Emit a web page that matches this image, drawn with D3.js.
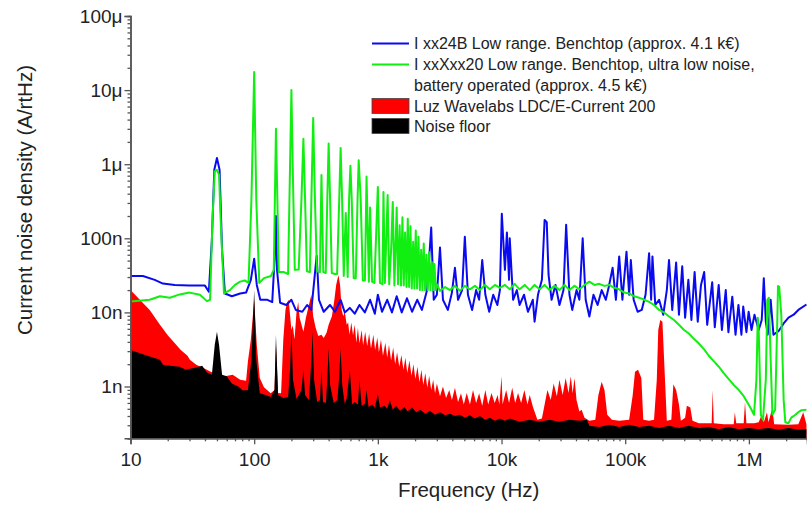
<!DOCTYPE html>
<html><head><meta charset="utf-8">
<script src="https://cdn.jsdelivr.net/npm/d3@7"></script>
<style>
html,body{margin:0;padding:0;background:#fff;}
text{font-family:"Liberation Sans",Arial,sans-serif;fill:#222;}
</style></head>
<body><svg id="c" width="807" height="508"></svg>
<script>
// x: frequency (Hz); y: current noise density in nA/rtHz
const xTickValues = [10, 100, 1000, 10000, 100000, 1000000];
const xTickLabels = ["10", "100", "1k", "10k", "100k", "1M"];
const yTickValues = [1, 10, 100, 1000, 10000, 100000];
const yTickLabels = ["1n", "10n", "100n", "1\u03bc", "10\u03bc", "100\u03bc"];
const legendLabels = [
  "I xx24B Low range. Benchtop (approx. 4.1 k\u20ac)",
  "I xxXxx20 Low range. Benchtop, ultra low noise,",
  "battery operated (approx. 4.5 k\u20ac)",
  "Luz Wavelabs LDC/E-Current 200",
  "Noise floor"
];
const seriesColors = ["#0a0af0", "#11ee11", "#ff0000", "#000000"];

const blueData = [
[10,31],[12.6,31],[15.7,27.5],[18.3,24.5],[22.8,23.5],[30,23],[40,23],[43,19],[45.5,95],[47.6,840],[50,1216],[52.5,840],[55,70],[58,18],[66,16.5],[77,18],[86,18.5],[94,27.5],[100,53],[105,23.5],[112,14.8],[128,14.8],[140,13.8],[146,51],[150,200],[153,37.5],[162,13.5],[182,12.6],[200,14.8],[217,10.8],[245,10.2],[268,12.6],[290,10.8],[320,58],[334,14.8],[365,10.2],[410,12.6],[450,10.2],[500,14.8],[540,10],[593,11.5],[650,9.6],[710,12.6],[785,10],[865,14.8],[945,9.6],[1000,17.3],[1080,10.2],[1190,14.8],[1300,10],[1420,16.5],[1560,10],[1720,15.5],[1890,10.2],[2080,14.8],[2270,10.8],[2500,20],[2700,140],[2830,14.8],[3000,17.3],[3180,75],[3360,14.8],[3680,10.8],[3970,18.5],[4200,40],[4450,14.8],[4800,20],[5050,105],[5350,17.3],[5780,10.8],[6230,20],[6590,14.8],[6980,51],[7400,17.3],[7950,10.2],[8570,17.3],[9250,12.6],[9700,20],[10050,215],[10650,37.5],[11050,120],[11500,27.5],[11650,100],[12400,14.8],[13300,20],[14000,12.6],[15200,17.3],[16350,10.2],[17900,14.8],[18500,7.5],[19700,17.3],[21200,27.5],[22300,177],[23200,165],[24000,32],[25400,14.8],[27300,23.5],[29400,12.6],[31700,20],[33300,152],[35400,17.3],[37300,10.8],[40400,20],[42600,14.8],[45300,100],[47900,14.8],[51300,8.8],[55400,17.3],[59800,12.6],[64600,20],[69700,14.8],[73600,22],[79100,40],[84100,14.8],[89400,57],[94900,14.8],[102400,66],[107600,17.3],[111000,51],[117000,14.8],[126000,10.2],[136000,10.8],[146000,17.3],[156000,63],[162000,14.8],[166000,57],[175000,12.6],[188000,14.8],[203000,9.3],[217000,20],[226000,51],[240000,10.8],[258000,47],[272000,9.3],[289000,42],[305000,8.5],[324000,27.5],[343000,7.9],[364000,35],[386000,7.5],[410000,23.5],[435000,35],[460000,6.8],[505000,25.5],[530000,6.3],[570000,23.5],[605000,5.8],[650000,20],[683000,5.4],[734000,16.3],[780000,5.0],[823000,12.6],[870000,5.0],[900000,12],[955000,5.4],[995000,10.2],[1.05e6,5.8],[1.11e6,9.3],[1.2e6,5.8],[1.27e6,7.9],[1.32e6,29],[1.37e6,7.5],[1.42e6,5.0],[1.5e6,14.8],[1.58e6,5.0],[1.68e6,5.4],[1.74e6,5.6],[1.91e6,7.1],[2.09e6,8.5],[2.3e6,9.3],[2.51e6,10.8],[2.92e6,12.8]
];

const greenData = [
[10,14],[14.3,14.8],[17.3,16.5],[20.8,15.8],[25,17.5],[30,18.5],[36.4,17.3],[41.5,14.2],[44,14.8],[46,177],[48,800],[50,837],[52,717],[54,130],[57,18],[63.6,20],[70,23.5],[77,26],[84,27],[90,25],[95,330],[100,17600],[104,330],[110,25],[120,29],[136.5,31],[144,37.5],[147,330],[150,3000],[154,330],[158,35],[174,35],[188,33],[194,600],[200,10000],[206,600],[213,37.5],[229,38],[241,330],[250,2200],[258,330],[267,36],[282,35],[290,330],[300,4200],[310,330],[322,36],[340,35],[350,717],[362,35],[379,34],[390,330],[400,1900],[411,330],[424,34],[450,33],[468,33],[487,330],[500,1660],[514,330],[530,31],[550,220],[570,30],[585,330],[600,950],[615,330],[638,29],[663,29],[685,330],[700,1130],[727,330],[756,27],[786,27],[810,680],[846,26],[865,260],[898,26],[938,25],[1000,494],[1040,25],[1090,24],[1110,420],[1140,25],[1200,385],[1235,24],[1280,70],[1320,310],[1360,23],[1420,260],[1455,24],[1500,150],[1540,23],[1580,193],[1620,23],[1660,120],[1705,22],[1745,183],[1790,22],[1835,146],[1880,21],[1930,90],[1975,21],[2025,127],[2075,21],[2130,105],[2185,20],[2240,70],[2295,20],[2350,85],[2410,20],[2470,60],[2530,20],[2600,65],[2660,20],[2730,48],[2800,20],[2870,45],[2940,20],[3000,24],[3180,19.5],[3500,22],[3830,20],[4200,22.8],[4610,19.5],[5050,22.8],[5550,20.5],[6100,22.8],[6680,20],[7350,23.5],[8040,20.5],[8850,23.5],[9680,21.5],[10650,23.5],[11650,20.5],[12750,24.3],[14000,20.5],[15400,23.5],[16900,20],[18500,23.5],[20300,20.5],[22300,23.5],[24400,20],[26800,22.8],[29400,20],[32300,23.5],[35400,20],[38900,22.8],[42600,20.5],[46900,23.5],[51300,26],[56400,23.5],[61700,24.3],[67900,22.8],[74300,23.5],[81500,21.5],[89400,20.5],[98000,18.5],[107600,18],[118000,16.5],[129500,15.8],[142000,14.8],[156000,13.9],[171000,12.6],[188000,10.8],[206000,10],[226000,8.8],[248000,7.9],[272000,6.8],[299000,5.8],[327000,5.2],[359000,4.4],[394000,3.8],[433000,3.2],[474000,2.6],[520000,2.2],[571000,1.85],[626000,1.52],[687000,1.26],[754000,1.05],[827000,0.9],[908000,0.74],[995000,0.57],[1.05e6,0.485],[1.1e6,0.415],[1.15e6,1.23],[1.18e6,8.5],[1.2e6,5.8],[1.25e6,0.41],[1.3e6,0.356],[1.37e6,1.23],[1.41e6,14.8],[1.45e6,15.7],[1.5e6,2.3],[1.55e6,0.42],[1.63e6,0.485],[1.69e6,5.8],[1.72e6,22.8],[1.76e6,22],[1.83e6,9],[1.91e6,0.66],[1.97e6,0.33],[2.09e6,0.32],[2.2e6,0.38],[2.35e6,0.41],[2.51e6,0.45],[2.67e6,0.48],[2.92e6,0.485]
];

const redData = [
[10,20],[11.9,14.8],[14.3,10.8],[17.3,6.8],[20,4.9],[25.5,3.1],[28.9,2.6],[30.2,2.3],[34,1.96],[40,1.73],[44,1.6],[51,1.44],[58,1.37],[67,1.44],[77,1.23],[86,1.2],[89,2.2],[94,4.3],[100,14.8],[105,3.65],[111,1.3],[120,0.98],[136,0.81],[146,0.9],[150,3.65],[156,0.82],[165,0.81],[172,4.3],[179,10.8],[184,13.4],[190,14.8],[200,5.8],[205,6.7],[212,4.3],[220,10.2],[227,13.8],[233,8.5],[250,5.5],[262,8.5],[277,12.6],[290,17.3],[300,8.9],[314,6.2],[330,4.8],[350,5],[365,4.5],[385,5.3],[400,6.8],[425,8.9],[445,14.8],[460,23.5],[480,32],[495,23.5],[510,10.8],[525,8.9],[540,10.2],[560,6.8],[575,7.3],[590,5],[610,7.3],[630,4.9],[650,6.8],[670,3.9],[690,6.2],[710,3.8],[740,5.8],[760,3.6],[790,5.5],[820,3.5],[850,5.2],[880,3.25],[920,5.0],[950,3.1],[990,4.6],[1020,2.9],[1060,4.3],[1100,2.6],[1150,3.9],[1190,2.45],[1230,3.65],[1280,2.25],[1330,3.35],[1380,2.0],[1430,2.9],[1490,1.85],[1550,2.67],[1610,1.68],[1670,2.45],[1730,1.52],[1800,2.25],[1870,1.4],[1940,2.0],[2010,1.26],[2090,1.85],[2170,1.14],[2250,1.68],[2330,1.05],[2420,1.52],[2510,0.96],[2600,1.4],[2700,0.9],[2800,1.23],[2900,0.81],[3000,1.1],[3180,0.74],[3360,1.0],[3560,0.7],[3780,0.9],[3970,0.66],[4200,0.96],[4450,0.62],[4700,0.81],[4950,0.57],[5230,0.82],[5550,0.57],[5880,0.9],[6230,0.6],[6590,0.81],[6980,0.55],[7400,0.9],[7800,0.57],[8300,0.82],[8800,0.6],[9300,0.77],[9600,0.57],[10000,1.37],[10200,0.57],[10900,0.9],[11500,0.6],[12200,0.96],[12900,0.6],[13600,0.82],[14400,0.6],[15300,0.9],[16200,0.57],[16900,0.77],[18000,0.52],[19500,0.356],[21200,0.37],[22300,0.57],[23500,0.9],[25000,0.66],[26400,1.1],[28000,0.74],[29400,1.23],[31200,0.77],[33000,1.3],[34800,0.82],[36300,1.37],[37600,0.81],[38900,1.3],[40400,0.66],[42600,0.46],[44400,0.485],[46900,0.38],[51300,0.345],[57300,0.356],[60700,0.77],[64500,1.16],[68000,0.9],[71600,0.415],[78000,0.356],[89400,0.345],[107600,0.356],[115000,0.77],[120000,1.58],[127000,1.68],[135000,1.3],[140000,0.356],[156000,0.345],[171000,0.356],[180000,1.23],[185000,5.8],[192000,7.9],[200000,7.5],[208000,1.68],[217000,0.345],[236000,0.356],[245000,1.07],[258000,0.9],[272000,0.57],[282000,0.345],[305000,0.38],[315000,0.55],[336000,0.52],[350000,0.345],[394000,0.32],[474000,0.32],[500000,0.32],[510000,0.9],[520000,0.32],[626000,0.31],[754000,0.31],[770000,0.45],[790000,0.32],[908000,0.32],[930000,0.62],[955000,0.32],[1.1e6,0.32],[1.2e6,0.33],[1.27e6,0.415],[1.32e6,0.33],[1.4e6,0.45],[1.44e6,0.33],[1.55e6,0.52],[1.6e6,0.31],[2.09e6,0.305],[2.51e6,0.31],[2.75e6,0.45],[2.92e6,0.31]
];

const blackData = [
[10,3.1],[11.9,2.8],[14.3,2.55],[17.3,2.3],[18.3,1.96],[20.8,1.9],[25,1.85],[28,1.68],[30.2,1.73],[34,1.8],[38,1.9],[41.5,1.55],[45.5,1.44],[48,3.65],[50,5.5],[52,3.65],[55,1.44],[60,1.37],[66,1.1],[72,1.02],[75,0.99],[81,0.88],[89,0.9],[95,2.3],[100,20],[104,2.3],[111,0.81],[124,0.77],[136,0.72],[146,0.9],[150,5],[156,0.77],[172,0.7],[188,0.72],[195,1.68],[200,6],[206,1.23],[220,0.68],[241,0.9],[250,1.68],[258,0.77],[277,0.66],[290,2.3],[297,5.5],[305,1.23],[323,0.62],[340,0.66],[350,1.68],[360,0.62],[380,0.6],[390,1.23],[400,3.3],[411,1.05],[440,0.6],[470,0.66],[485,1.23],[500,3.3],[515,1.05],[540,0.58],[560,0.7],[593,1.68],[620,0.57],[650,0.62],[690,0.57],[710,1.23],[740,0.55],[785,0.58],[810,0.9],[840,0.53],[900,0.57],[945,0.52],[1000,0.79],[1040,0.52],[1130,0.55],[1190,0.5],[1250,0.66],[1320,0.485],[1400,0.55],[1515,0.47],[1640,0.53],[1740,0.46],[1890,0.52],[2040,0.45],[2200,0.485],[2420,0.43],[2640,0.47],[2900,0.415],[3180,0.45],[3500,0.41],[3830,0.43],[4200,0.4],[4610,0.415],[5050,0.38],[5550,0.41],[6100,0.37],[6680,0.4],[7350,0.356],[8040,0.38],[8850,0.345],[9680,0.37],[10650,0.345],[11650,0.37],[14000,0.335],[16900,0.356],[20300,0.335],[24400,0.356],[29400,0.335],[35400,0.356],[42600,0.345],[49000,0.356],[51300,0.295],[61700,0.285],[74300,0.305],[89400,0.285],[107600,0.305],[129500,0.285],[156000,0.295],[188000,0.275],[226000,0.295],[272000,0.275],[327000,0.295],[394000,0.275],[474000,0.285],[571000,0.265],[687000,0.285],[827000,0.265],[995000,0.275],[1.2e6,0.265],[1.44e6,0.275],[1.735e6,0.26],[2.09e6,0.275],[2.51e6,0.26],[2.92e6,0.265]
];

const svg = d3.select("#c");
const L = 130.5, R = 807, T = 16, B = 438.3;
const x = d3.scaleLog().domain([10, 2.95e6]).range([L, R]);
const y = d3.scaleLog().domain([0.2, 1e5]).range([B, T]);

svg.append("defs").append("clipPath").attr("id","clip")
  .append("rect").attr("x", L).attr("y", T - 10).attr("width", R - L).attr("height", B - T + 10);

const plot = svg.append("g").attr("clip-path","url(#clip)");
const area = d3.area().x(d => x(d[0])).y0(y(0.2)).y1(d => y(d[1]));
const line = d3.line().x(d => x(d[0])).y(d => y(d[1]));

plot.append("path").datum(redData).attr("d", area).attr("fill", seriesColors[2]);
plot.append("path").datum(blackData).attr("d", area).attr("fill", seriesColors[3]);
plot.append("path").datum(blueData).attr("d", line).attr("fill","none")
  .attr("stroke", seriesColors[0]).attr("stroke-width", 2).attr("stroke-linejoin","round");
plot.append("path").datum(greenData).attr("d", line).attr("fill","none")
  .attr("stroke", seriesColors[1]).attr("stroke-width", 2).attr("stroke-linejoin","round");

// minor tick values
const xMinor = [];
for (let e = 1; e <= 6; e++) for (let m = 2; m <= 9; m++) { const v = m * Math.pow(10, e); if (v <= 2.95e6) xMinor.push(v); }
const yMinor = [];
for (let e = -1; e <= 4; e++) for (let m = 2; m <= 9; m++) { const v = m * Math.pow(10, e); if (v >= 0.2 && v < 1e5) yMinor.push(v); }

const axisColor = "#555";
// X axis
const gx = svg.append("g").attr("transform", `translate(0,${B})`);
gx.call(d3.axisBottom(x).tickValues(xMinor).tickSize(3).tickFormat(""));
gx.call(g => g.append("g").call(d3.axisBottom(x).tickValues(xTickValues).tickSize(6)
    .tickFormat((d, i) => xTickLabels[i])));
gx.selectAll("path.domain").attr("stroke", axisColor).attr("stroke-width", 1.5);
gx.selectAll("line").attr("stroke", axisColor).attr("stroke-width", 1.3);
gx.selectAll("text").attr("font-size", 19).attr("fill", "#222").attr("y", 14).attr("dy", "0.71em")
  .style("font-family", '"Liberation Sans", Arial, sans-serif');

// Y axis
const gy = svg.append("g").attr("transform", `translate(${L},0)`);
gy.call(d3.axisLeft(y).tickValues(yMinor).tickSize(3).tickFormat(""));
gy.call(g => g.append("g").call(d3.axisLeft(y).tickValues(yTickValues).tickSize(6)
    .tickFormat((d, i) => yTickLabels[i])));
gy.selectAll("path.domain").attr("stroke", axisColor).attr("stroke-width", 1.5);
gy.selectAll("line").attr("stroke", axisColor).attr("stroke-width", 1.3);
gy.selectAll("text").attr("font-size", 19).attr("fill", "#222").attr("x", -8)
  .style("font-family", '"Liberation Sans", Arial, sans-serif');

// Axis titles
svg.append("text").attr("x", (L + R) / 2).attr("y", 497).attr("text-anchor","middle")
  .attr("font-size", 20.5).text("Frequency (Hz)");
svg.append("text").attr("transform", "translate(32,200) rotate(-90)").attr("text-anchor","middle")
  .attr("font-size", 20.5).text("Current noise density (A/rtHz)");

// Legend
const lg = svg.append("g");
const lx0 = 372, lx1 = 409, tx = 414;
const rows = [43.5, 64.5, 85.5, 106, 126];
lg.append("line").attr("x1", lx0).attr("x2", lx1).attr("y1", rows[0]).attr("y2", rows[0])
  .attr("stroke", seriesColors[0]).attr("stroke-width", 2);
lg.append("line").attr("x1", lx0).attr("x2", lx1).attr("y1", rows[1]).attr("y2", rows[1])
  .attr("stroke", seriesColors[1]).attr("stroke-width", 2);
lg.append("rect").attr("x", lx0).attr("y", rows[3] - 7.5).attr("width", lx1 - lx0).attr("height", 15)
  .attr("fill", seriesColors[2]).attr("stroke", "#444").attr("stroke-width", 0.8);
lg.append("rect").attr("x", lx0).attr("y", rows[4] - 7.5).attr("width", lx1 - lx0).attr("height", 15)
  .attr("fill", seriesColors[3]).attr("stroke", "#444").attr("stroke-width", 0.8);
legendLabels.forEach((t, i) => {
  lg.append("text").attr("x", tx).attr("y", rows[i]).attr("dy", "0.35em")
    .attr("font-size", 16).text(t);
});
</script></body></html>
